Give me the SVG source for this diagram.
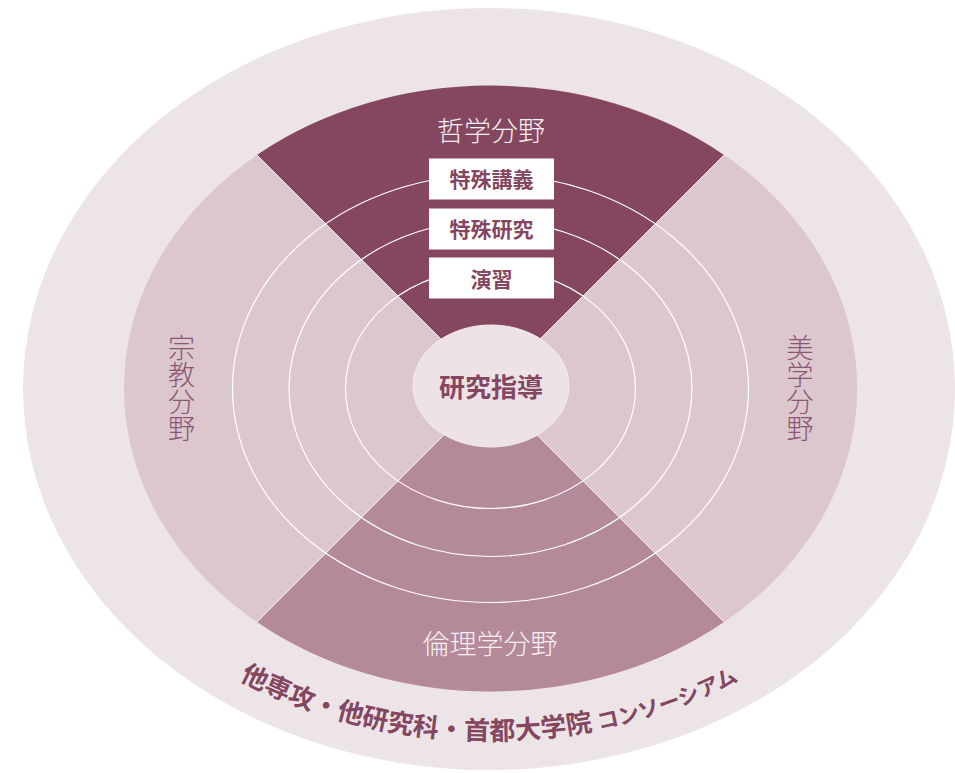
<svg xmlns="http://www.w3.org/2000/svg" width="955" height="773" viewBox="0 0 955 773">
  <style>
    .ring { fill: none; stroke: #ffffff; stroke-width: 1.2; }
    .divider { stroke: #f6eef1; stroke-width: 1; }
    .box { fill: #ffffff; }
    .boxtxt { font-family: "Noto Sans CJK JP", "Noto Sans", sans-serif; font-size: 21px; font-weight: bold; fill: #84475f; text-anchor: middle; }
    .title { font-family: "Noto Sans CJK JP", "Noto Sans", sans-serif; font-size: 27px; font-weight: 300; fill: #f6eef1; text-anchor: middle; }
    .vtitle { font-family: "Noto Sans CJK JP", "Noto Sans", sans-serif; font-size: 27px; font-weight: 300; fill: #8a5671; writing-mode: vertical-rl; text-orientation: upright; }
    .center { font-family: "Noto Sans CJK JP", "Noto Sans", sans-serif; font-size: 26px; font-weight: bold; fill: #84475f; text-anchor: middle; }
    .arc { font-family: "Noto Sans CJK JP", "Noto Sans", sans-serif; font-size: 26px; font-weight: bold; fill: #84475f; }
    .kana { font-size: 21.5px; }
  </style>
  <defs>
    <path id="arcPath" d="M 43,389 A 447 351 0 0 0 937,389"/>
  </defs>

  <g id="outer-ring">
    <ellipse cx="489" cy="389" rx="466" ry="381" fill="#ede4e8"/>
  </g>

  <g id="sector-religion">
    <ellipse cx="490.5" cy="388.5" rx="366.5" ry="303" fill="#dcc7cf"/>
  </g>
  <g id="sector-aesthetics">
    <path d="M490.5,388.5 L724,155 A366.5 303 0 0 1 724,622 Z" fill="#dcc7cf"/>
  </g>
  <g id="sector-philosophy">
    <path d="M490.5,388.5 L257,155 A366.5 303 0 0 1 724,155 Z" fill="#84475f"/>
  </g>
  <g id="sector-ethics">
    <path d="M490.5,388.5 L724,622 A366.5 303 0 0 1 257,622 Z" fill="#b48a9b"/>
  </g>

  <g id="connectors">
    <ellipse class="ring" cx="490.5" cy="388.5" rx="258" ry="214"/>
    <ellipse class="ring" cx="490.5" cy="388.5" rx="201.5" ry="168"/>
    <ellipse class="ring" cx="490.5" cy="388.5" rx="145" ry="120"/>
    <line class="divider" x1="257" y1="155" x2="724" y2="622"/>
    <line class="divider" x1="724" y1="155" x2="257" y2="622"/>
  </g>

  <g id="center-node">
    <ellipse cx="491" cy="386" rx="78" ry="61" fill="#ede3e7" stroke="#f3ecef" stroke-width="1"/>
    <text class="center" x="491" y="397">研究指導</text>
  </g>

  <g id="label-philosophy">
    <text class="title" x="491" y="140.5">哲学分野</text>
  </g>
  <g id="box-lecture">
    <rect class="box" x="429" y="158.5" width="125" height="41"/>
    <text class="boxtxt" x="491.5" y="187">特殊講義</text>
  </g>
  <g id="box-research">
    <rect class="box" x="429" y="208.5" width="125" height="41"/>
    <text class="boxtxt" x="491.5" y="237">特殊研究</text>
  </g>
  <g id="box-seminar">
    <rect class="box" x="429" y="257.5" width="125" height="41"/>
    <text class="boxtxt" x="491.5" y="286.5">演習</text>
  </g>

  <g id="label-religion">
    <text class="vtitle" x="181.5" y="334">宗教分野</text>
  </g>
  <g id="label-aesthetics">
    <text class="vtitle" x="800" y="334">美学分野</text>
  </g>
  <g id="label-ethics">
    <text class="title" x="490" y="654">倫理学分野</text>
  </g>

  <g id="label-outer">
    <text class="arc"><textPath href="#arcPath" startOffset="368.5">他専攻・</textPath></text>
    <text class="arc"><textPath href="#arcPath" startOffset="472.5">他研究科・</textPath></text>
    <text class="arc"><textPath href="#arcPath" startOffset="602.5">首都大学院</textPath></text>
    <text class="arc kana"><textPath href="#arcPath" startOffset="738.5">コンソーシアム</textPath></text>
  </g>
</svg>
